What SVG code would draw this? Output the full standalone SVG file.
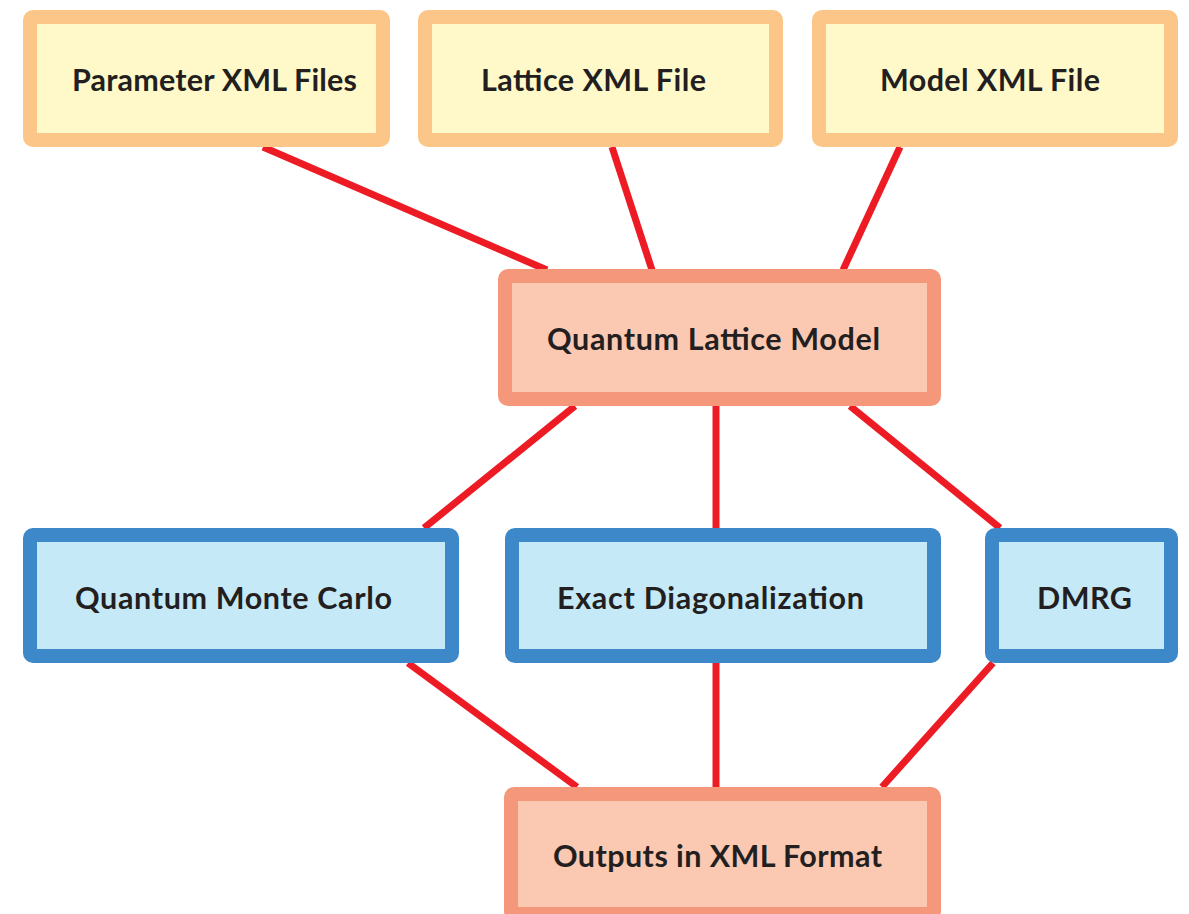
<svg xmlns="http://www.w3.org/2000/svg" width="1189" height="914" viewBox="0 0 1189 914">
<style>
.y{fill:#FFF9CA;stroke:#FDC689;stroke-width:14}
.s{fill:#FBC8B2;stroke:#F5977A;stroke-width:14}
.b{fill:#C6E9F8;stroke:#3D88C8;stroke-width:14}
.t{font-family:Lato,"Open Sans",sans-serif;font-weight:bold;font-size:30.5px;fill:#231F20}
#edges line{stroke:#ED1C24;stroke-width:7}
</style>
<rect width="1189" height="914" fill="#fff"/>
<g id="edges">
<line x1="263" y1="147" x2="547" y2="270"/>
<line x1="612" y1="147" x2="652" y2="270"/>
<line x1="900" y1="147" x2="843" y2="270"/>
<line x1="575" y1="406" x2="424" y2="528"/>
<line x1="716" y1="406" x2="716" y2="528"/>
<line x1="850" y1="406" x2="1000" y2="528"/>
<line x1="408" y1="663" x2="577" y2="787"/>
<line x1="716" y1="663" x2="716" y2="787"/>
<line x1="993" y1="663" x2="882" y2="787"/>
</g>
<g id="param"><rect class="y" x="30" y="17" width="353" height="123" rx="3"/><text class="t" x="72" y="91" textLength="285" lengthAdjust="spacing">Parameter XML Files</text></g>
<g id="lattice"><rect class="y" x="425" y="17" width="351" height="123" rx="3"/><text class="t" x="481" y="91" textLength="225" lengthAdjust="spacing">Lattice XML File</text></g>
<g id="model"><rect class="y" x="819" y="17" width="352" height="123" rx="3"/><text class="t" x="880" y="91" textLength="220" lengthAdjust="spacing">Model XML File</text></g>
<g id="qlm"><rect class="s" x="505" y="276" width="429" height="123" rx="3"/><text class="t" x="547" y="350" textLength="333" lengthAdjust="spacing">Quantum Lattice Model</text></g>
<g id="qmc"><rect class="b" x="30" y="535" width="422" height="121" rx="3"/><text class="t" x="75" y="609" textLength="317" lengthAdjust="spacing">Quantum Monte Carlo</text></g>
<g id="ed"><rect class="b" x="512" y="535" width="422" height="121" rx="3"/><text class="t" x="557" y="609" textLength="307" lengthAdjust="spacing">Exact Diagonalization</text></g>
<g id="dmrg"><rect class="b" x="992" y="535" width="179" height="121" rx="3"/><text class="t" x="1037" y="609" textLength="95" lengthAdjust="spacing">DMRG</text></g>
<g id="out"><rect class="s" x="511" y="794" width="423" height="120" rx="3"/><text class="t" x="553" y="867" textLength="329" lengthAdjust="spacing">Outputs in XML Format</text></g>
</svg>
